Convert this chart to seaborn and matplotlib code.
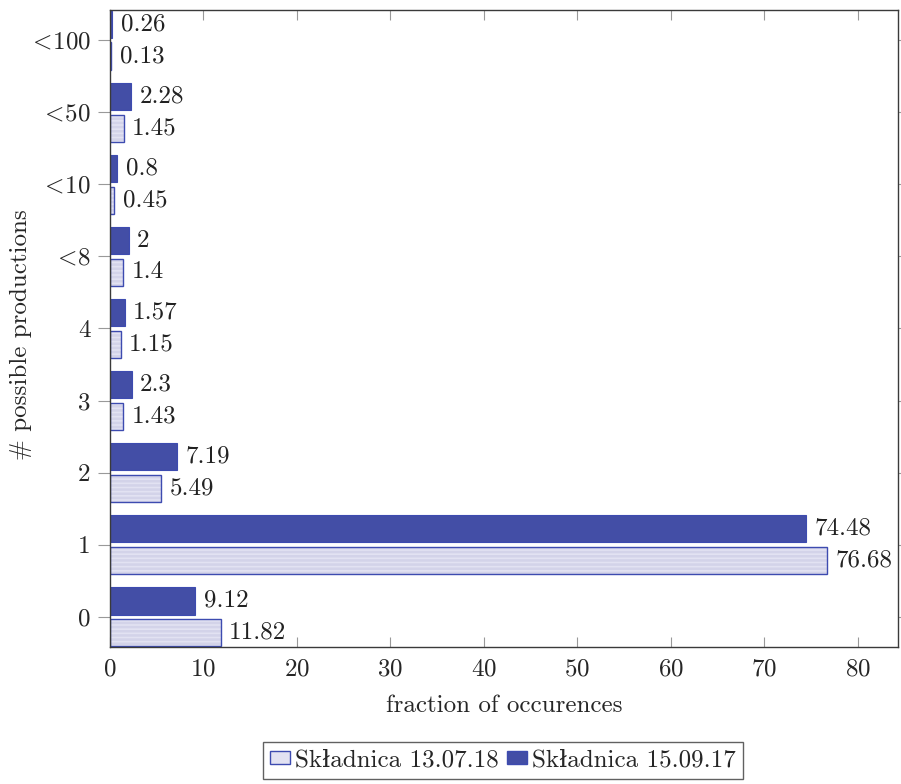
import numpy as np
import pandas as pd
import seaborn as sns
import matplotlib as mpl
import matplotlib.pyplot as plt

# data
categories = ['0', '1', '2', '3', '4', '<8', '<10', '<50', '<100']
tick_labels = ['0', '1', '2', '3', '4', r'$<\!$8', r'$<\!$10', r'$<\!$50', r'$<\!$100']
old_version = [9.12, 74.48, 7.19, 2.3, 1.57, 2, 0.8, 2.28, 0.26]      # Składnica 15.09.17
new_version = [11.82, 76.68, 5.49, 1.43, 1.15, 1.4, 0.45, 1.45, 0.13]  # Składnica 13.07.18
series_names = ['Składnica 15.09.17', 'Składnica 13.07.18']

sns.set_style("white")
plt.rcParams['font.family'] = ['cmr10', 'DejaVu Serif']
plt.rcParams['mathtext.fontset'] = 'cm'
plt.rcParams['axes.formatter.use_mathtext'] = True
plt.rcParams['hatch.linewidth'] = 1.8

dark = '#434ea6'
edge = '#3d4bb0'
light = '#e2e2f2'
stripe = '#d3d3e9'
FS = 18

df = pd.DataFrame({
    'category': categories * 2,
    'value': old_version + new_version,
    'series': [series_names[0]] * len(categories) + [series_names[1]] * len(categories),
})

fig = plt.figure(figsize=(9.01, 7.84), dpi=100)
ax = fig.add_axes([0.1221, 0.1747, 0.8746, 0.8126])

# reversed order so '0' ends up at the bottom, dark series above light one
sns.barplot(data=df, y='category', x='value', hue='series',
            order=categories[::-1], hue_order=series_names,
            palette=[dark, light], width=0.88, gap=0.14,
            orient='h', ax=ax, legend=False, saturation=1)

n = len(categories)
dark_bars = ax.patches[:n]
light_bars = ax.patches[n:2 * n]
for p in dark_bars:
    p.set_edgecolor(edge)
    p.set_linewidth(0.8)
for p in light_bars:
    # stripes come from the hatch (drawn in edge colour), outline added on top
    p.set_edgecolor(stripe)
    p.set_linewidth(0)
    p.set_hatch('----')
    ax.add_patch(mpl.patches.Rectangle(p.get_xy(), p.get_width(), p.get_height(),
                                       fill=False, edgecolor=edge, linewidth=1.0))

for cont in ax.containers:
    ax.bar_label(cont, labels=[f'{v:g}' for v in cont.datavalues],
                 padding=6, fontsize=FS, color='#222222')

ax.set_xlim(0, 84.3)
ax.set_ylim(n - 1 + 0.42, -0.42)
ax.set_xticks(np.arange(0, 90, 10))
ax.set_yticks(range(n))
ax.set_yticklabels(tick_labels[::-1])

ax.set_xlabel('fraction of occurences', fontsize=FS, va='center')
ax.xaxis.set_label_coords(0.5, -0.092)
ax.set_ylabel('# possible productions', fontsize=FS, va='center')
ax.yaxis.set_label_coords(-0.113, 0.49)

for s in ax.spines.values():
    s.set_color('#3a3a3a')
    s.set_linewidth(1.0)

ax.tick_params(axis='x', which='both', direction='in', length=7, width=0.8,
               color='#999999', top=True, bottom=True, labelsize=FS, pad=8)
ax.tick_params(axis='y', which='both', direction='out', length=9, width=0.8,
               color='#999999', left=True, right=True, labelsize=FS, pad=5)
for t in ax.yaxis.get_ticklines()[1::2]:
    t.set_markersize(3)

# legend with small rectangles, centred below the axes
handles = [mpl.patches.Patch(facecolor=light, edgecolor=edge, label=series_names[1]),
           mpl.patches.Patch(facecolor=dark, edgecolor=edge, label=series_names[0])]
leg = fig.legend(handles=handles, loc='upper center', bbox_to_anchor=(0.558, 0.054),
                 ncol=2, frameon=True, fancybox=False, fontsize=FS,
                 handlelength=0.8, handleheight=0.4, handletextpad=0.2,
                 columnspacing=0.3, borderpad=0.3, borderaxespad=0)
leg.get_frame().set_edgecolor('#3a3a3a')
leg.get_frame().set_linewidth(1.0)

fig.savefig('out.png', dpi=100)
